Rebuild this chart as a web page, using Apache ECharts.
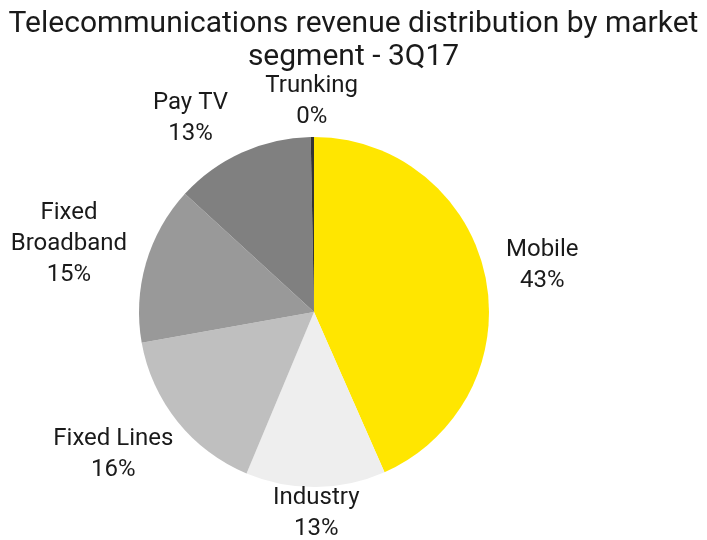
<!DOCTYPE html>
<html>
<head>
<meta charset="utf-8">
<script src="https://cdn.jsdelivr.net/npm/echarts@6/dist/echarts.min.js"></script>
<style>
  html, body { margin: 0; padding: 0; background: #fff; }
  #chart { width: 707px; height: 540px; }
</style>
</head>
<body>
<div id="chart"></div>
<script>
// Revenue share by market segment, clockwise from 12 o'clock
const segments = ['Mobile', 'Industry', 'Fixed Lines', 'Fixed Broadband', 'Pay TV', 'Trunking'];
const shares = [43.4, 12.9, 15.9, 14.6, 12.9, 0.3];
const labelNames = ['Mobile', 'Industry', 'Fixed Lines', 'Fixed\nBroadband', 'Pay TV', 'Trunking'];
const sliceColors = ['#FFE600', '#EEEEEE', '#BFBFBF', '#999999', '#808080', '#333333'];

const CX = 314, CY = 312, R = 175;
const LABEL_GAP = 22;       // distance between rim and label box
const MIN_BOX_GAP = 36;     // minimum horizontal space between neighbouring labels
const TOP_LIMIT = 70, BOTTOM_LIMIT = 544;
const LABEL_FONT = '24px Roboto';
const LABEL_LINE_H = 31;

const total = shares.reduce((a, b) => a + b, 0);

// mid-angle (radians, clockwise from top) of each slice
const midAngles = [];
let acc = 0;
shares.forEach(v => {
  midAngles.push(((acc + v / 2) / total) * Math.PI * 2);
  acc += v;
});

// rounded percentages (largest remainder, same as the pie's own percent)
const pctText = echarts.number && echarts.number.getPercentWithPrecision
  ? shares.map((v, i) => echarts.number.getPercentWithPrecision(shares, i, 0))
  : null;

// measure label boxes
const ctx = document.createElement('canvas').getContext('2d');
ctx.font = LABEL_FONT;
const boxes = labelNames.map((name, i) => {
  const lines = (name + '\n' + '00%').split('\n');
  const w = Math.max.apply(null, lines.map(t => ctx.measureText(t).width));
  return { w: w, h: lines.length * LABEL_LINE_H };
});

function placeAt(i, a) {
  const ux = Math.sin(a), uy = -Math.cos(a);
  const b = boxes[i];
  let x = CX + (R + LABEL_GAP) * ux + ux * b.w / 2;
  let y = CY + (R + LABEL_GAP) * uy + uy * b.h / 2;
  y = Math.max(TOP_LIMIT + b.h / 2, Math.min(BOTTOM_LIMIT - b.h / 2, y));
  return { x: x, y: y, w: b.w, h: b.h, a: a };
}

function tooClose(p, q) {
  const vOverlap = Math.abs(p.y - q.y) < (p.h + q.h) / 2;
  const hGap = Math.abs(p.x - q.x) - (p.w + q.w) / 2;
  return vOverlap && hGap < MIN_BOX_GAP;
}

// initial placement, then rotate the label lying farther from the vertical
// axis away from its neighbour until they no longer crowd each other
const placed = midAngles.map((a, i) => placeAt(i, a));
for (let i = 0; i < placed.length; i++) {
  const j = (i + 1) % placed.length;
  let guard = 0;
  while (tooClose(placed[i], placed[j]) && guard++ < 60) {
    const si = Math.abs(Math.sin(placed[i].a));
    const sj = Math.abs(Math.sin(placed[j].a));
    const step = 0.5 * Math.PI / 180;
    if (si >= sj) placed[i] = placeAt(i, placed[i].a - step);
    else placed[j] = placeAt(j, placed[j].a + step);
  }
}

const chart = echarts.init(document.getElementById('chart'), null, { renderer: 'canvas' });

chart.setOption({
  animation: false,
  title: {
    text: 'Telecommunications revenue distribution by market\nsegment - 3Q17',
    left: 'center',
    top: 3,
    textStyle: {
      fontFamily: 'Roboto',
      fontSize: 30,
      fontWeight: 'normal',
      color: '#1a1a1a',
      lineHeight: 33
    }
  },
  series: [{
    type: 'pie',
    center: [CX, CY],
    radius: R,
    startAngle: 90,
    clockwise: true,
    avoidLabelOverlap: false,
    percentPrecision: 0,
    itemStyle: { borderWidth: 0 },
    label: {
      show: true,
      position: 'outside',
      formatter: p => labelNames[p.dataIndex] + '\n' + p.percent + '%',
      fontFamily: 'Roboto',
      fontSize: 24,
      lineHeight: LABEL_LINE_H,
      color: '#1a1a1a',
      align: 'center'
    },
    labelLine: { show: false },
    labelLayout: function (params) {
      const p = placed[params.dataIndex];
      return { x: p.x, y: p.y, align: 'center', verticalAlign: 'middle' };
    },
    emphasis: { disabled: true },
    data: segments.map((name, i) => ({
      name: name,
      value: shares[i],
      itemStyle: { color: sliceColors[i] }
    }))
  }]
});
</script>
</body>
</html>
